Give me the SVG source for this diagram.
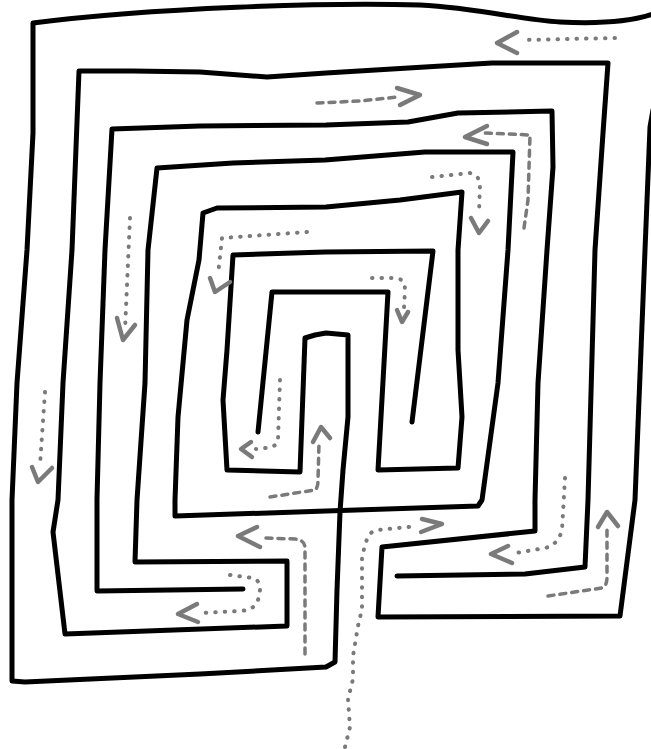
<svg xmlns="http://www.w3.org/2000/svg" width="651" height="749" viewBox="0 0 651 749">
<style>
.w{fill:none;stroke:#000;stroke-width:5;stroke-linejoin:round;stroke-linecap:round}
.dot{fill:none;stroke:#7a7a7a;stroke-width:4;stroke-linecap:round;stroke-dasharray:0.5 9}
.dash{fill:none;stroke:#7a7a7a;stroke-width:3.5;stroke-linecap:round;stroke-dasharray:6 6}
.head{fill:none;stroke:#7a7a7a;stroke-width:4.5;stroke-linecap:round;stroke-linejoin:round}
</style>
<rect width="651" height="749" fill="#fff"/>
<g id="walls">
<path id="wall-outer" class="w" d="M 653,14 C 630,22 600,24 560,22 C 520,20 480,8 420,5 C 330,2 150,8 33,23 L 33,133 L 27,250 L 17,383 L 12,500 L 12,681 L 25,682 L 200,674 L 326,667 L 335,662 L 337,590 L 340,512 L 343,470 L 348,417 L 348,335 L 326,333 L 315,335 L 305,338 L 300,472 L 227,470 L 223,400 L 227,350 L 233,255 L 325,252 L 433,251 L 412,422"/>
<path id="wall-middle" class="w" d="M 258,432 L 272,292 L 388,292 L 378,470 L 458,468 L 462,417 L 458,350 L 458,250 L 462,192 L 400,200 L 326,207 L 217,208 L 203,213 L 199,260 L 187,320 L 178,417 L 175,500 L 175,516 L 326,511 L 478,506 L 482,500 L 498,383 L 508,250 L 513,152 L 425,152 L 325,160 L 233,163 L 157,168 L 148,250 L 145,383 L 137,500 L 135,562 L 287,561 L 287,626 L 65,634 L 53,532 L 58,500 L 63,383 L 72,250 L 79,71 L 133,71 L 200,72 L 267,77 L 326,73 L 425,67 L 492,63 L 608,63 L 603,133 L 595,250 L 588,500 L 585,567 L 525,574 L 397,576"/>
<path id="wall-inner" class="w" d="M 243,589 L 97,591 L 97,499 L 100,383 L 105,250 L 112,129 L 200,126 L 326,125 L 408,122 L 458,113 L 552,111 L 553,167 L 547,250 L 538,383 L 535,500 L 535,531 L 382,547 L 378,617 L 620,616 L 635,500 L 645,250 L 650,127 L 653,110"/>
</g>
<g id="arrows">
<g id="a1"><path class="dot" d="M 615,38 L 522,40"/><path class="head" d="M 517,32 L 497,43 L 517,53"/></g>
<g id="a2"><path class="dash" d="M 317,103 L 360,101 L 398,97"/><path class="head" d="M 397,88 L 420,95 L 400,105"/></g>
<g id="a3"><path class="dash" d="M 524,228 L 528,200 L 530,135 L 484,133"/><path class="head" d="M 487,126 L 465,137 L 487,144"/></g>
<g id="a4"><path class="dot" d="M 432,177 L 470,173 Q 480,176 480,185 L 479,213"/><path class="head" d="M 471,218 L 479,233 L 488,221"/></g>
<g id="a5"><path class="dot" d="M 307,232 L 222,238 L 218,275"/><path class="head" d="M 210,278 L 215,292 L 230,282"/></g>
<g id="a6"><path class="dot" d="M 130,218 L 125,330"/><path class="head" d="M 117,318 L 123,340 L 135,325"/></g>
<g id="a7"><path class="dot" d="M 45,392 L 40,465"/><path class="head" d="M 32,467 L 38,482 L 52,468"/></g>
<g id="a8"><path class="dot" d="M 280,380 L 278,440 Q 276,448 265,448 L 256,449"/><path class="head" d="M 251,442 L 241,449 L 252,457"/></g>
<g id="a9"><path class="dash" d="M 270,497 L 315,490 Q 318,488 318,480 L 319,443"/><path class="head" d="M 313,442 L 321,427 L 330,438"/></g>
<g id="a10"><path class="dot" d="M 372,278 L 397,278 Q 405,280 405,290 L 404,308"/><path class="head" d="M 397,310 L 402,322 L 408,312"/></g>
<g id="a11"><path class="dot" d="M 345,747 L 350,727 L 348,699 L 353,679 L 353,656 L 358,626 L 362,609 L 362,556 L 367,539 Q 370,531 378,530 L 418,526"/><path class="head" d="M 422,519 L 442,524 L 421,532"/></g>
<g id="a12"><path class="dash" d="M 548,596 L 602,588 Q 607,586 607,577 L 607,530"/><path class="head" d="M 598,527 L 607,512 L 618,526"/></g>
<g id="a13"><path class="dot" d="M 565,478 L 562,530 Q 558,545 545,548 L 510,554"/><path class="head" d="M 508,546 L 491,554 L 512,563"/></g>
<g id="a14"><path class="dash" d="M 305,654 L 305,548 Q 305,540 295,539 L 262,538"/><path class="head" d="M 257,527 L 238,536 L 260,547"/></g>
<g id="a15"><path class="dot" d="M 230,575 L 253,578 Q 260,580 260,590 L 258,600 Q 255,610 240,611 L 200,613"/><path class="head" d="M 197,604 L 178,614 L 198,622"/></g>
</g>
</svg>
